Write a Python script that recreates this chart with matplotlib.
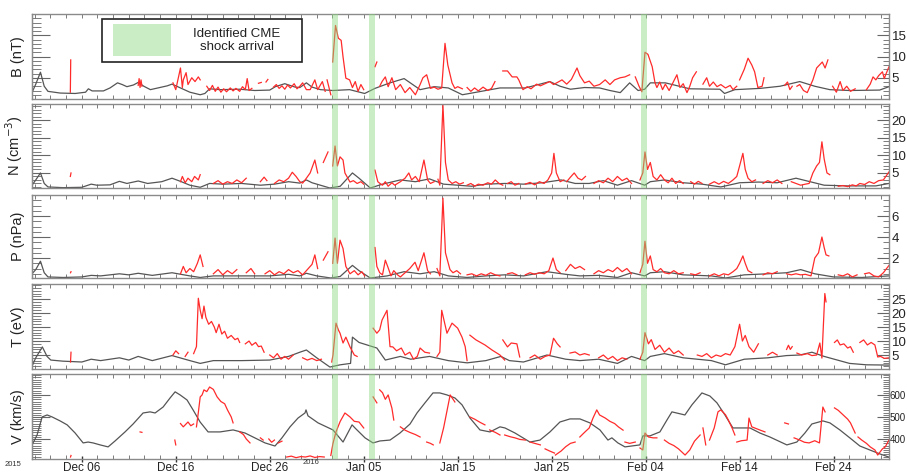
import datetime
import numpy as np
import matplotlib
matplotlib.use('Agg')
import matplotlib.pyplot as plt
import matplotlib.dates as mdates
from matplotlib.ticker import FixedLocator, MultipleLocator
from matplotlib.patches import Rectangle

plt.rcParams['font.family'] = ['Liberation Sans', 'DejaVu Sans']

# time axis: days after 2015-12-01 00:00
start = datetime.datetime(2015, 12, 1)
t_lim = (-0.3, 90.9)
shock_days = [31.95, 35.9, 64.85]
shock_width = 0.6

# ---------------- B (nT) ----------------
b_model = [(-0.3, 1.5), (0.1, 3.5), (0.6, 6.3), (1.0, 3.0), (1.4, 1.8), (2.7, 1.4), (4.3, 1.3),
           (5.4, 1.6), (5.7, 2.4), (6.1, 1.9), (7.3, 1.9), (8.0, 2.6), (8.8, 3.8), (9.3, 3.4),
           (9.8, 2.9), (10.5, 3.3), (11.0, 3.9), (11.6, 3.0), (12.3, 2.2), (13.1, 2.6), (14.1, 3.1),
           (14.6, 3.5), (15.5, 2.6), (16.5, 1.6), (17.6, 1.0), (18.1, 1.3), (18.6, 2.4), (19.7, 2.2),
           (21.8, 2.3), (23.4, 2.0), (25.0, 2.1), (25.6, 2.9), (26.6, 3.6), (27.7, 2.8), (28.2, 2.7),
           (28.9, 3.8), (29.5, 2.8), (30.4, 2.2), (31.7, 2.0), (33.5, 2.2), (35.1, 1.3), (36.2, 2.5),
           (37.8, 3.8), (39.3, 4.8), (41.0, 2.2), (42.5, 2.9), (44.0, 2.6), (45.5, 1.0), (47.5, 1.8),
           (49.5, 2.6), (52.2, 2.6), (54.8, 4.1), (55.9, 3.0), (57.0, 2.3), (58.5, 2.7), (60.1, 2.6),
           (61.2, 2.0), (62.3, 1.5), (63.3, 3.8), (64.2, 2.0), (64.9, 2.3), (65.5, 3.8), (67.1, 3.8),
           (69.7, 2.4), (72.9, 2.3), (73.4, 1.3), (74.5, 2.2), (77.2, 2.5), (79.3, 3.0), (81.4, 4.1),
           (83.0, 3.0), (84.6, 2.2), (86.7, 2.0), (89.9, 2.1), (90.9, 2.9)]
b_obs = [
    [(3.78, 1.6), (3.82, 9.2)],
    [(11.0, 3.2), (11.1, 4.8), (11.2, 2.7), (11.3, 4.5), (11.4, 3.0)],
    [(14.7, 3.8), (15.0, 2.2), (15.5, 7.3), (15.7, 2.7), (15.8, 4.5), (16.1, 6.2), (16.3, 3.4),
     (16.7, 5.0), (17.05, 4.1), (17.4, 5.2), (17.6, 4.5)],
    [(18.3, 3.0), (18.6, 2.0), (18.9, 3.2), (19.2, 1.8), (19.5, 2.8), (19.8, 1.6), (20.1, 2.4),
     (20.4, 1.7), (20.8, 2.6), (21.1, 1.9), (21.4, 2.5), (21.8, 1.8), (22.1, 2.9), (22.4, 2.2),
     (22.6, 4.8), (22.8, 2.0), (23.1, 2.5)],
    [(23.8, 3.7), (24.1, 3.9)],
    [(24.6, 4.0), (24.8, 4.6)],
    [(25.4, 2.8), (25.7, 3.4), (26.0, 2.5), (26.3, 3.1), (26.6, 2.3), (26.9, 3.3), (27.2, 2.6),
     (27.6, 3.6), (27.9, 2.4), (28.2, 3.0), (28.5, 3.8), (28.9, 2.2), (29.3, 2.2), (29.8, 4.5),
     (30.1, 2.2), (30.6, 4.1), (30.9, 1.8)],
    [(31.1, 4.5), (31.5, 1.0)],
    [(31.7, 8.7), (32.0, 17.3), (32.3, 14.3), (32.6, 13.8), (32.8, 9.9), (33.1, 4.9), (33.5, 4.5),
     (33.8, 2.7), (34.1, 4.1), (34.4, 1.8), (34.7, 3.4), (35.0, 2.2)],
    [(36.2, 7.6), (36.4, 8.7)],
    [(36.7, 3.0), (36.95, 4.1), (37.3, 5.2), (37.6, 2.9), (38.0, 5.0), (38.4, 2.2), (38.9, 3.4),
     (39.4, 1.5), (39.9, 2.7), (40.5, 1.0), (41.0, 3.4), (41.3, 5.0), (41.7, 5.7), (42.1, 2.5),
     (42.5, 2.8), (42.9, 2.3), (43.3, 2.6), (43.65, 13.1), (43.95, 8.0), (44.4, 3.8), (44.7, 2.5),
     (45.0, 2.9), (45.5, 2.4)],
    [(46.0, 2.7), (46.4, 1.8), (46.8, 2.6), (47.2, 1.9), (47.7, 2.8), (48.2, 2.0), (48.6, 2.5),
     (48.97, 4.1)],
    [(49.8, 6.6), (50.3, 6.6), (50.8, 5.2), (51.3, 5.2), (51.5, 4.5), (51.95, 2.2), (52.4, 2.9),
     (52.8, 2.4), (53.4, 3.5), (53.8, 3.1), (54.3, 3.6), (54.8, 4.1), (55.2, 3.4), (55.7, 4.0),
     (56.1, 4.5), (56.6, 3.5), (57.1, 4.6), (57.7, 7.3), (58.0, 5.5), (58.5, 3.8), (59.0, 4.2),
     (59.5, 3.0), (60.1, 3.4), (60.7, 4.5), (61.2, 3.4), (61.7, 4.5), (62.3, 5.0), (62.8, 5.2),
     (63.3, 5.7)],
    [(63.9, 5.2), (64.3, 3.0), (64.6, 1.7), (64.93, 11.0), (65.25, 10.5), (65.7, 7.6), (66.0, 3.8),
     (66.2, 2.7), (66.5, 4.0), (66.8, 2.2), (67.1, 3.5), (67.5, 2.0), (67.9, 3.8), (68.33, 5.7),
     (68.65, 2.7), (69.0, 3.6), (69.4, 1.5), (69.7, 3.0), (70.0, 5.0), (70.4, 6.4)],
    [(71.1, 3.5), (71.5, 5.0), (71.8, 3.0), (72.2, 4.0), (72.6, 2.9), (73.0, 3.4), (73.5, 2.6),
     (74.0, 3.2), (74.3, 2.2), (74.7, 3.0)],
    [(75.0, 4.5), (75.5, 7.0), (75.9, 9.6), (76.3, 8.0), (76.6, 6.4), (76.95, 2.7), (77.4, 3.0),
     (77.6, 5.0)],
    [(79.8, 3.2), (80.1, 4.0), (80.35, 2.2), (80.6, 3.0)],
    [(81.1, 3.0), (81.4, 3.4), (81.8, 2.0), (82.2, 1.5), (82.5, 3.0), (82.8, 4.5), (83.2, 7.3),
     (83.8, 8.7), (84.1, 7.3), (84.4, 9.2)],
    [(84.9, 3.0), (85.3, 1.6), (85.7, 4.1), (86.0, 2.0), (86.4, 3.0), (86.8, 1.8), (87.3, 2.4)],
    [(88.5, 2.2), (88.9, 3.5), (89.2, 5.2), (89.5, 4.5), (89.8, 5.5), (90.2, 6.4), (90.4, 4.8),
     (90.6, 6.0), (90.9, 7.6)],
]

# ---------------- N (cm-3) ----------------
n_model = [(-0.3, 1.5), (0.1, 3.0), (0.6, 5.0), (1.0, 2.0), (1.4, 1.0), (3.0, 0.8), (5.0, 0.9),
           (6.0, 1.8), (6.6, 1.5), (8.0, 1.6), (9.0, 2.6), (9.8, 2.0), (11.0, 2.7), (12.0, 2.0),
           (13.5, 2.5), (14.6, 3.5), (15.5, 2.6), (16.5, 1.5), (17.6, 0.9), (18.6, 2.0), (20.0, 1.8),
           (22.0, 2.0), (24.0, 1.5), (25.5, 1.8), (27.0, 2.5), (28.2, 2.1), (28.9, 3.0), (29.5, 2.2),
           (31.4, 0.7), (32.5, 1.2), (33.8, 5.0), (34.5, 3.5), (35.7, 0.7), (37.0, 1.8), (38.9, 3.0),
           (40.5, 2.5), (42.0, 3.3), (43.5, 1.8), (45.0, 1.5), (46.5, 1.2), (48.0, 1.8), (50.0, 2.0),
           (52.0, 1.8), (54.0, 2.2), (56.0, 3.0), (57.5, 2.0), (59.0, 2.0), (60.5, 2.8), (62.0, 1.5),
           (63.5, 2.8), (64.9, 1.5), (65.5, 2.5), (67.0, 3.0), (69.0, 2.2), (71.0, 1.8), (73.0, 1.0),
           (75.0, 2.2), (77.0, 2.4), (79.0, 2.2), (81.0, 3.5), (82.5, 2.5), (84.0, 1.5), (86.5, 1.3),
           (89.5, 1.3), (90.9, 2.0)]
n_obs = [
    [(3.78, 4.0), (3.85, 5.0)],
    [(15.5, 2.5), (15.7, 4.0), (16.0, 2.2), (16.3, 3.5), (16.7, 2.5), (17.0, 4.0), (17.4, 3.0),
     (17.6, 4.5)],
    [(19.0, 2.0), (19.5, 2.8), (20.0, 1.8), (20.5, 2.5), (21.0, 2.0), (21.5, 3.0), (22.0, 2.2),
     (22.5, 3.5)],
    [(24.0, 2.5), (24.4, 3.8), (24.7, 2.8)],
    [(25.5, 2.0), (26.0, 3.0), (26.5, 2.5), (27.0, 3.5), (27.4, 5.2), (27.8, 4.0), (28.2, 2.5),
     (28.5, 2.1), (28.9, 3.5), (29.3, 5.0), (29.8, 8.7), (30.1, 5.0)],
    [(30.7, 8.0), (31.2, 11.0)],
    [(31.7, 7.0), (31.95, 12.7), (32.2, 7.0), (32.48, 9.6), (32.8, 8.7), (33.0, 5.0), (33.54, 2.4),
     (33.9, 2.8), (34.3, 2.0), (34.7, 2.5), (35.0, 1.8)],
    [(36.2, 5.8), (36.5, 2.5), (36.73, 2.0), (37.0, 1.5), (37.3, 2.5), (37.6, 1.2), (38.0, 2.2),
     (38.3, 1.5), (38.9, 2.5), (39.4, 3.5), (39.8, 5.0), (40.1, 3.0), (40.5, 4.0), (40.9, 2.5),
     (41.41, 8.7), (41.8, 3.0), (42.1, 2.0), (42.5, 2.5)],
    [(42.9, 3.2), (43.1, 1.5), (43.43, 24.5), (43.7, 8.0), (44.0, 3.0), (44.4, 2.0), (44.8, 2.5),
     (45.2, 1.8), (45.6, 2.2)],
    [(46.0, 1.5), (46.4, 2.0), (46.8, 1.2), (47.2, 1.8), (47.7, 1.5), (48.2, 2.2), (48.6, 1.8),
     (49.0, 3.0), (49.4, 2.0), (49.8, 1.5)],
    [(50.3, 2.0), (50.7, 2.5), (51.1, 1.5), (51.5, 2.0)],
    [(52.2, 1.8), (52.7, 2.3), (53.2, 1.6), (53.7, 2.5), (54.2, 2.0), (54.6, 3.0), (55.0, 5.0),
     (55.24, 10.6), (55.5, 5.0), (55.9, 2.5), (56.3, 3.0)],
    [(56.6, 2.5), (57.0, 3.8), (57.4, 5.0), (57.8, 3.5), (58.2, 3.0), (58.6, 4.0)],
    [(59.5, 2.0), (60.0, 2.8), (60.5, 2.2), (61.0, 3.5), (61.5, 2.5), (62.0, 4.0), (62.5, 2.8),
     (63.0, 3.5), (63.5, 2.0)],
    [(64.4, 3.0), (64.7, 5.0), (64.93, 11.0), (65.2, 6.0), (65.5, 8.0), (65.8, 4.0), (66.2, 3.0),
     (66.6, 4.5), (67.0, 3.0), (67.4, 2.2), (67.8, 3.5), (68.2, 2.0), (68.6, 2.8), (69.0, 2.0)],
    [(69.8, 2.5), (70.2, 1.8), (70.6, 2.6), (71.0, 2.0)],
    [(71.8, 1.8), (72.3, 2.5), (72.8, 1.8), (73.3, 2.6), (73.8, 2.0), (74.3, 3.0), (74.7, 4.0),
     (75.0, 7.0), (75.35, 10.6), (75.6, 6.0), (75.9, 3.5), (76.3, 2.5), (76.7, 3.0)],
    [(77.5, 2.0), (78.0, 2.8), (78.5, 2.2), (79.0, 3.0), (79.5, 2.0)],
    [(80.5, 2.5), (81.0, 2.0), (81.5, 1.5), (82.0, 1.8), (82.4, 2.0), (82.8, 5.0), (83.2, 7.0),
     (83.5, 8.0), (83.76, 13.9), (84.0, 9.0), (84.3, 5.0), (84.6, 4.5)],
    [(85.5, 1.2), (86.0, 1.4), (86.5, 1.1), (87.0, 1.6), (87.4, 1.3), (87.8, 2.0), (88.3, 1.7),
     (88.8, 2.5), (89.3, 2.0), (89.8, 2.8), (90.3, 3.0), (90.9, 5.3)],
]

# ---------------- P (nPa) ----------------
p_model = [(-0.3, 0.5), (0.1, 0.9), (0.6, 1.7), (1.0, 0.6), (1.4, 0.2), (3.0, 0.15), (5.0, 0.2),
           (6.0, 0.35), (7.0, 0.3), (9.0, 0.5), (10.0, 0.4), (11.0, 0.55), (12.5, 0.35), (14.6, 0.6),
           (16.5, 0.3), (17.6, 0.15), (19.0, 0.3), (22.0, 0.3), (25.0, 0.3), (27.0, 0.45), (28.2, 0.3),
           (28.9, 0.55), (30.0, 0.3), (31.5, 0.1), (32.5, 0.25), (33.8, 1.3), (34.5, 0.8), (35.7, 0.1),
           (37.5, 0.3), (39.3, 0.7), (41.0, 0.5), (42.5, 0.7), (44.0, 0.3), (46.0, 0.15), (48.0, 0.3),
           (50.0, 0.4), (52.0, 0.3), (54.5, 0.7), (56.5, 0.45), (58.0, 0.3), (60.0, 0.35), (62.0, 0.15),
           (63.5, 0.6), (64.9, 0.3), (65.5, 0.6), (67.0, 0.7), (69.0, 0.4), (72.0, 0.3), (73.5, 0.1),
           (75.5, 0.4), (78.0, 0.5), (80.0, 0.6), (81.5, 0.9), (83.0, 0.5), (85.0, 0.2), (88.0, 0.15),
           (90.9, 0.3)]
p_obs = [
    [(3.8, 0.6), (3.85, 0.7)],
    [(15.5, 0.5), (15.8, 1.2), (16.1, 0.6), (16.5, 1.0), (16.9, 0.7), (17.3, 1.5), (17.6, 2.3),
     (17.9, 1.2)],
    [(19.0, 0.5), (19.5, 0.9), (20.0, 0.4), (20.5, 0.8), (21.0, 0.5), (21.5, 0.9)],
    [(22.5, 0.6), (23.0, 1.0), (23.4, 0.5)],
    [(24.5, 0.5), (25.0, 0.8), (25.5, 0.4), (26.0, 0.7), (26.5, 0.5), (27.0, 0.9), (27.5, 0.6),
     (28.0, 0.8), (28.5, 0.4), (29.0, 0.9), (29.5, 1.4), (29.8, 2.3), (30.1, 1.0)],
    [(30.7, 1.8), (31.2, 2.6)],
    [(31.7, 1.5), (31.95, 3.9), (32.2, 1.5), (32.48, 3.7), (32.8, 2.9), (33.1, 1.2), (33.54, 0.5),
     (34.0, 0.8), (34.4, 0.4), (34.8, 0.7), (35.1, 0.3)],
    [(36.2, 3.0), (36.4, 1.2), (36.7, 0.6), (37.0, 0.4), (37.3, 1.8), (37.59, 1.1), (37.9, 0.3),
     (38.2, 0.8), (38.6, 0.4), (38.9, 0.2), (39.4, 0.6), (39.9, 1.0), (40.46, 1.6), (40.8, 0.8),
     (41.41, 2.5), (41.8, 0.8), (42.1, 0.5)],
    [(42.8, 1.0), (43.1, 0.3), (43.43, 7.7), (43.7, 2.5), (44.18, 0.9), (44.5, 0.6), (44.9, 0.8),
     (45.3, 0.5)],
    [(46.0, 0.4), (46.5, 0.5), (47.0, 0.3), (47.5, 0.5), (48.0, 0.35), (48.5, 0.6), (49.0, 0.4),
     (49.5, 0.3)],
    [(50.3, 0.5), (50.8, 0.6), (51.3, 0.4)],
    [(52.2, 0.4), (52.7, 0.6), (53.2, 0.45), (53.7, 0.6), (54.2, 0.5), (54.7, 0.8), (55.14, 2.0),
     (55.5, 0.9), (55.9, 0.6)],
    [(56.5, 0.8), (57.0, 1.4), (57.5, 1.0), (58.0, 1.2), (58.5, 0.9)],
    [(59.5, 0.5), (60.0, 0.8), (60.5, 0.6), (61.0, 0.9), (61.5, 0.7), (62.0, 1.1), (62.5, 0.7),
     (63.0, 1.0), (63.5, 0.5)],
    [(64.4, 0.6), (64.7, 1.4), (64.93, 3.6), (65.2, 1.5), (65.5, 2.2), (65.8, 0.9), (66.2, 0.7),
     (66.6, 1.0), (67.0, 0.6), (67.5, 0.5), (68.0, 0.8), (68.5, 0.5), (69.0, 0.6)],
    [(69.8, 0.5), (70.3, 0.4), (70.8, 0.6)],
    [(71.8, 0.3), (72.3, 0.5), (72.8, 0.3), (73.3, 0.5), (73.8, 0.4), (74.3, 0.7), (74.7, 1.0),
     (75.0, 1.5), (75.35, 2.2), (75.6, 1.5), (75.9, 0.8), (76.3, 0.6)],
    [(77.5, 0.4), (78.0, 0.6), (78.5, 0.5), (79.0, 0.7)],
    [(80.0, 0.5), (80.5, 0.4), (81.0, 0.5), (81.5, 0.4), (82.0, 0.45), (82.6, 0.3), (83.0, 2.0),
     (83.4, 2.5), (83.76, 4.0), (84.0, 3.0), (84.2, 2.3), (84.5, 2.2)],
    [(85.5, 0.4), (86.0, 0.3), (86.5, 0.5), (87.0, 0.2), (87.5, 0.4)],
    [(88.3, 0.5), (88.8, 0.6), (89.3, 0.3), (89.8, 0.2), (90.3, 0.6), (90.9, 1.3)],
]

# ---------------- T (eV) ----------------
t_model = [(-0.3, 1.0), (0.1, 4.0), (0.8, 7.9), (1.3, 4.5), (1.7, 3.2), (3.0, 2.8), (5.0, 2.5),
           (6.0, 3.5), (7.0, 3.0), (9.0, 4.0), (10.0, 3.2), (11.0, 4.5), (12.5, 3.0), (14.6, 4.8),
           (16.5, 3.0), (17.6, 2.0), (19.0, 3.0), (22.0, 3.0), (25.0, 3.2), (27.0, 4.5), (28.2, 6.0),
           (28.9, 6.8), (30.0, 4.0), (31.4, 0.7), (32.5, 1.5), (33.6, 2.0), (33.8, 11.4), (34.5, 9.5),
           (36.4, 7.5), (37.3, 3.2), (38.9, 4.5), (40.0, 3.5), (42.0, 4.5), (44.0, 3.0), (46.0, 2.2),
           (48.0, 3.0), (49.6, 4.5), (50.5, 3.0), (52.0, 2.5), (54.5, 5.0), (56.5, 3.5), (58.0, 3.0),
           (60.0, 3.5), (62.0, 2.0), (63.5, 4.5), (64.9, 3.0), (65.5, 4.5), (67.0, 5.5), (69.0, 4.0),
           (72.0, 3.0), (73.5, 1.5), (75.5, 3.5), (78.0, 4.0), (80.0, 4.8), (81.4, 5.0), (82.7, 6.0),
           (84.0, 4.5), (86.7, 2.0), (88.5, 1.5), (90.9, 1.4)]
t_obs = [
    [(3.8, 2.5), (3.85, 6.0)],
    [(14.7, 5.0), (15.0, 6.5), (15.3, 5.5)],
    [(16.0, 4.5), (16.3, 6.0)],
    [(16.9, 5.5), (17.2, 8.0), (17.4, 25.3), (17.6, 21.0), (17.8, 18.0), (18.0, 22.5), (18.2, 18.5),
     (18.5, 16.0), (18.8, 17.0), (19.1, 15.0), (19.3, 13.0), (19.6, 16.0), (19.9, 12.5), (20.2, 13.5),
     (20.5, 11.0), (20.9, 12.0), (21.3, 10.5), (21.6, 11.0), (21.8, 9.5)],
    [(22.4, 9.0), (22.8, 10.0), (23.1, 8.5), (23.5, 9.5), (23.8, 8.0), (24.1, 8.2), (24.4, 6.0)],
    [(25.0, 5.0), (25.4, 4.0), (25.8, 5.5), (26.2, 3.5), (26.6, 4.5), (27.0, 3.5), (27.5, 5.0)],
    [(28.5, 4.0), (29.0, 3.2), (29.5, 3.8), (30.0, 3.0), (30.5, 3.5)],
    [(31.6, 2.5), (31.73, 5.0), (32.05, 16.4), (32.3, 14.0), (32.48, 12.8), (32.8, 9.3), (33.1, 11.4),
     (33.54, 7.9), (34.0, 5.0), (34.3, 4.5)],
    [(36.0, 14.6), (36.4, 12.8), (36.7, 14.0), (36.95, 17.5), (37.48, 21.0), (37.8, 8.0), (38.1, 7.9),
     (38.5, 6.5), (39.0, 7.5), (39.4, 5.0), (39.9, 6.0), (40.3, 3.5), (40.7, 4.5), (41.0, 7.5),
     (41.5, 6.0), (42.0, 5.7)],
    [(42.8, 4.5), (43.1, 6.0), (43.3, 21.0), (43.86, 12.8), (44.4, 16.4), (45.0, 14.6), (45.46, 11.4),
     (45.8, 8.0), (46.0, 3.0)],
    [(46.3, 12.1), (46.95, 10.4), (47.9, 8.6), (48.65, 6.8), (49.5, 5.0), (50.0, 3.2)],
    [(49.8, 10.4), (50.3, 7.9), (50.7, 9.3), (51.3, 9.0), (51.6, 4.3)],
    [(52.7, 4.0), (53.2, 5.0), (53.8, 3.5), (54.3, 4.5), (54.82, 5.0), (55.2, 11.0), (55.6, 9.0),
     (55.9, 7.9)],
    [(56.95, 5.7), (57.5, 6.1), (58.0, 5.0), (58.5, 5.5), (59.0, 5.0)],
    [(60.0, 4.0), (60.5, 5.0), (61.0, 3.5), (61.5, 4.5), (62.0, 3.0), (62.5, 4.0), (63.0, 3.5)],
    [(64.4, 3.5), (64.7, 6.0), (64.93, 13.0), (65.3, 9.0), (65.6, 10.5), (66.0, 7.0), (66.5, 8.5),
     (67.0, 6.0), (67.5, 7.5), (68.0, 5.5), (68.5, 6.5), (69.0, 5.0)],
    [(70.5, 5.0), (71.0, 4.5), (71.5, 5.5), (72.0, 4.0), (72.5, 5.0), (73.0, 4.5), (73.5, 5.5),
     (74.0, 5.0), (74.5, 8.0), (75.0, 16.0), (75.3, 10.0), (75.6, 12.0), (76.0, 8.0), (76.5, 6.0),
     (77.0, 9.0)],
    [(78.0, 5.0), (78.5, 6.0), (79.0, 5.0)],
    [(80.0, 7.0), (80.2, 8.5), (80.4, 7.0), (80.6, 8.0)],
    [(81.1, 5.7), (81.6, 5.0), (82.2, 5.5), (82.7, 4.8), (83.2, 5.0), (83.54, 9.3), (83.76, 3.9),
     (84.07, 27.0), (84.2, 24.0)],
    [(85.1, 9.5), (85.4, 10.4), (85.7, 8.6), (86.1, 9.0), (86.5, 7.5), (86.8, 8.0), (87.1, 6.0)],
    [(87.8, 9.5), (88.2, 10.4), (88.6, 8.6), (89.0, 9.5), (89.4, 8.6), (89.7, 4.3), (90.0, 4.5),
     (90.4, 3.8), (90.9, 4.0)],
]

# ---------------- V (km/s) ----------------
v_model = [(-0.29, 373), (0.24, 418), (0.78, 500), (1.31, 509), (1.84, 500), (2.69, 482), (3.44, 464),
           (4.29, 427), (5.14, 382), (5.67, 386), (6.2, 382), (6.95, 373), (7.8, 364), (8.54, 391),
           (9.6, 432), (10.46, 468), (11.52, 518), (12.27, 523), (12.8, 518), (13.65, 545),
           (14.39, 586), (14.93, 614), (15.46, 600), (16.2, 577), (16.84, 532), (17.59, 477),
           (18.44, 432), (19.71, 432), (21.1, 441), (22.37, 427), (23.22, 409), (24.5, 382),
           (25.56, 368), (26.3, 405), (27.16, 455), (28.01, 495), (28.75, 518), (28.86, 532),
           (29.07, 505), (30.14, 473), (31.73, 441), (32.8, 386), (33.76, 464), (34.07, 450),
           (35.14, 405), (35.99, 382), (36.73, 391), (37.8, 395), (38.86, 427), (39.93, 468),
           (40.67, 518), (41.52, 564), (42.37, 609), (43.1, 609), (43.86, 600), (44.71, 586),
           (45.46, 555), (46.31, 495), (47.37, 441), (48.44, 432), (49.5, 455), (50.03, 450),
           (51.1, 427), (51.95, 405), (52.69, 386), (53.76, 395), (54.82, 432), (55.88, 477),
           (56.95, 491), (58.01, 491), (59.07, 473), (60.14, 441), (60.99, 395), (61.41, 405),
           (62.05, 382), (62.8, 364), (64.39, 373), (64.71, 414), (65.46, 414), (66.52, 432),
           (67.27, 486), (67.8, 523), (69.18, 509), (69.93, 555), (70.99, 609), (71.84, 595),
           (72.59, 564), (73.44, 509), (74.29, 450), (75.03, 450), (76.1, 450), (77.16, 427),
           (78.22, 409), (80.03, 373), (81.09, 386), (81.95, 427), (82.69, 468), (83.86, 482),
           (84.61, 473), (85.67, 441), (86.73, 405), (87.8, 368), (88.86, 350), (89.93, 332),
           (90.88, 318)]
v_obs = [
    [(3.8, 318), (3.85, 325)],
    [(11.2, 432), (11.4, 430)],
    [(14.9, 395), (15.0, 373)],
    [(15.5, 470), (15.8, 455), (16.3, 477), (16.6, 460), (16.9, 468)],
    [(17.2, 455), (17.4, 520), (17.6, 591), (17.8, 600), (18.0, 623), (18.3, 615), (18.6, 636),
     (19.0, 625), (19.4, 591), (19.8, 570), (20.2, 560), (20.5, 532), (20.9, 500), (21.1, 473)],
    [(21.8, 432), (22.2, 420), (22.5, 400), (22.9, 382)],
    [(24.0, 405), (24.3, 395)],
    [(24.9, 400), (25.2, 385), (25.5, 395)],
    [(25.9, 382), (26.3, 390)],
    [(26.8, 318), (27.3, 322), (27.8, 315), (28.3, 320), (28.8, 318), (29.3, 323), (29.8, 316),
     (30.3, 320), (30.8, 318)],
    [(31.5, 325), (31.73, 380), (32.05, 432), (32.5, 480), (33.0, 518), (33.54, 500), (34.0, 480),
     (34.5, 477), (35.0, 450)],
    [(36.0, 591), (36.4, 564)],
    [(36.7, 623), (37.0, 610), (37.3, 580), (37.6, 600), (38.0, 540), (38.2, 486)],
    [(38.9, 455), (39.4, 440), (39.9, 430), (40.5, 420), (41.0, 409)],
    [(41.7, 386), (42.1, 380), (42.4, 373)],
    [(43.1, 382), (43.5, 450), (44.2, 600), (44.7, 568)],
    [(46.3, 500), (46.8, 490), (47.4, 475), (47.9, 464)],
    [(48.4, 441), (49.0, 430), (49.5, 418)],
    [(50.0, 418), (50.6, 410), (51.1, 405), (51.6, 398), (52.2, 395)],
    [(52.7, 386), (53.2, 380), (53.8, 373)],
    [(54.3, 355), (54.8, 345), (55.3, 336)],
    [(55.4, 327), (56.0, 345), (56.5, 365), (57.0, 380), (57.5, 386)],
    [(58.0, 409), (58.5, 430), (59.0, 450), (59.4, 495), (59.8, 532), (60.1, 509), (60.7, 495),
     (61.2, 480), (61.7, 470), (62.1, 455), (62.6, 440)],
    [(62.8, 386), (63.3, 380), (63.9, 386)],
    [(64.4, 359), (64.7, 350), (64.93, 427), (65.3, 409), (65.8, 405), (66.2, 405)],
    [(67.0, 395), (67.5, 380), (68.0, 370), (68.5, 355), (69.2, 327), (69.7, 350), (70.2, 390),
     (70.8, 418)],
    [(71.1, 450), (71.4, 373)],
    [(71.8, 395), (72.3, 450), (72.7, 523), (73.0, 532), (73.5, 510), (73.8, 486), (74.2, 450),
     (74.5, 418)],
    [(74.7, 386), (75.2, 392), (75.8, 395), (76.0, 495), (76.3, 455), (76.6, 450), (77.2, 440),
     (77.7, 432)],
    [(79.8, 473), (80.2, 468)],
    [(80.8, 405), (81.4, 395), (81.9, 385), (82.4, 382), (83.0, 392), (83.5, 382), (83.86, 545),
     (84.1, 523)],
    [(85.1, 541), (85.5, 530), (86.0, 510), (86.5, 490), (86.8, 473), (87.3, 427)],
    [(87.6, 409), (88.0, 395), (88.5, 380), (88.9, 364), (89.4, 350), (89.7, 327), (90.2, 355),
     (90.5, 364), (90.9, 395)],
]

labels = ['B (nT)', 'N (cm$^{-3}$)', 'P (nPa)', 'T (eV)', 'V (km/s)']
ylims = [(0, 20), (0.7, 24.7), (0.1, 8.0), (0, 30.4), (309, 695)]
yticks = [[5, 10, 15], [5, 10, 15, 20], [2, 4, 6], [5, 10, 15, 20, 25], [400, 500, 600]]
yminor = [1, 1, 0.5, 1, 10]
models = [b_model, n_model, p_model, t_model, v_model]
observed = [b_obs, n_obs, p_obs, t_obs, v_obs]

# panel rows in pixels (top, bottom) of a 907x474 figure
rows = [(14, 99), (104, 188), (195, 278), (284, 369), (374, 459)]
W, H = 907, 474
x0, x1 = 32, 889

base = mdates.date2num(start)
to_num = lambda d: base + np.asarray(d, dtype=float)

fig = plt.figure(figsize=(W / 100, H / 100), dpi=100)
red = '#ff2b2b'
model_col = '#555555'
band_col = (0.55, 0.85, 0.50)
frame_col = '#8a8a8a'

major_x = to_num(5 + 10 * np.arange(9))
minor_x = to_num(5 + (10 / 6) * np.arange(-3, 52))

axes = []
for i, (top, bot) in enumerate(rows):
    ax = fig.add_axes([x0 / W, 1 - bot / H, (x1 - x0) / W, (bot - top) / H])
    axes.append(ax)
    mt, mv = np.array(models[i]).T
    ax.plot(to_num(mt), mv, color=model_col, lw=0.9, zorder=2)
    for seg in observed[i]:
        st, sv = np.array(seg).T
        ax.plot(to_num(st), sv, color=red, lw=0.9, zorder=2)
    for d in shock_days:
        ax.axvspan(to_num(d - shock_width / 2), to_num(d + shock_width / 2),
                   color=band_col, alpha=0.45, lw=0, zorder=3)
    ax.set_xlim(to_num(t_lim[0]), to_num(t_lim[1]))
    ax.set_ylim(*ylims[i])

    for s in ax.spines.values():
        s.set_color(frame_col)
        s.set_linewidth(1.0)

    # the speed labels are wider, keep them inside the figure
    lsize, lpad = (7, 0.3) if i == 4 else (9.5, 2)
    ax.yaxis.set_major_locator(FixedLocator(yticks[i]))
    ax.yaxis.set_minor_locator(MultipleLocator(yminor[i]))
    ax.tick_params(axis='y', which='both', direction='in', left=False, right=True,
                   labelleft=False, labelright=True, colors='#666666', labelcolor='#222222',
                   labelsize=lsize, pad=lpad)
    ax.tick_params(axis='y', which='major', length=8.5, width=0.8)
    ax.tick_params(axis='y', which='minor', length=4.3, width=0.6)

    sec = ax.secondary_yaxis('left')
    sec.yaxis.set_major_locator(FixedLocator(yticks[i]))
    sec.yaxis.set_minor_locator(MultipleLocator(yminor[i]))
    sec.tick_params(axis='y', which='both', direction='in', labelleft=False, colors='#666666')
    sec.tick_params(axis='y', which='major', length=13, width=0.8)
    sec.tick_params(axis='y', which='minor', length=6.5, width=0.6)
    sec.spines['left'].set_color(frame_col)

    ax.xaxis.set_major_locator(FixedLocator(major_x))
    ax.xaxis.set_minor_locator(FixedLocator(minor_x))
    ax.xaxis.set_major_formatter(mdates.DateFormatter('%b %d'))
    ax.tick_params(axis='x', which='minor', direction='in', top=True, bottom=True,
                   length=3, width=0.6, colors='#666666')
    ax.tick_params(axis='x', which='major', direction='in', top=True, bottom=True,
                   length=3, width=0.6, colors='#666666', labelbottom=False)

    ax.set_ylabel(labels[i], fontsize=10.5, color='#222222')
    ax.yaxis.set_label_position('left')
    ax.yaxis.set_label_coords(-0.0085, 0.5)

# bottom axis: crossing major ticks with labels, on the bottom edge only
axv = axes[-1]
axv.tick_params(axis='x', which='major', direction='inout', length=5, width=1.0, top=False,
                colors='#333333', labelbottom=True, labelsize=8.5, pad=0, labelcolor='#222222')
fig.text(13 / W, 1 - 465 / H, '2015', fontsize=5.5, color='#333333', ha='center', va='center')
fig.text(311 / W, 1 - 463 / H, '2016', fontsize=5.5, color='#333333', ha='center', va='center')

# legend box in the top panel
axb = axes[0]
axb.add_patch(Rectangle((0.082, 0.435), 0.233, 0.505, transform=axb.transAxes,
                        facecolor='white', edgecolor='#222222', lw=1.2, zorder=6))
axb.add_patch(Rectangle((0.095, 0.506), 0.067, 0.374, transform=axb.transAxes,
                        facecolor=band_col, alpha=0.45, lw=0, zorder=7))
axb.text(0.239, 0.69, 'Identified CME\nshock arrival', transform=axb.transAxes,
         ha='center', va='center', fontsize=9.5, color='#222222', zorder=8, linespacing=1.15)

fig.savefig('out.png', dpi=100)
